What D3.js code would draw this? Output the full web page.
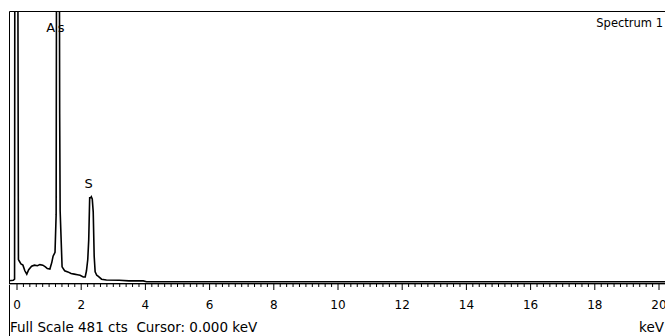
<!DOCTYPE html>
<html>
<head>
  <style>
    body { margin: 0; background: white; }
    text { font-family: "DejaVu Sans", Arial, sans-serif; font-size: 12px; fill: black; }
  </style>
</head>
<body>
  <script src="https://d3js.org/d3.v7.min.js"></script>
  <script>
    var width = 665, height = 336;

    // spectrum trace (keV, counts)
    var energy = [-0.25, -0.1, -0.06, -0.04, 0.01, 0.06, 0.09, 0.14, 0.2, 0.26, 0.32, 0.38, 0.47,
                  0.56, 0.65, 0.73, 0.82, 0.9, 0.96, 1.04, 1.1, 1.14, 1.2, 1.235, 1.255, 1.325,
                  1.345, 1.36, 1.42, 1.5, 1.6, 1.7, 1.8, 1.9, 1.98, 2.08, 2.14, 2.18, 2.22, 2.25,
                  2.28, 2.31, 2.33, 2.36, 2.39, 2.42, 2.45, 2.5, 2.55, 2.65, 2.8, 3.2, 3.5, 3.95,
                  4.05, 20.3];
    var counts = [2, 3, 5, 1500, 1500, 40, 37, 32, 30, 20, 14, 22, 28,
                  30, 29, 31, 30, 27, 24, 23, 35, 46, 53, 120, 900, 900,
                  300, 126, 27, 20, 18, 15, 14, 13, 12, 9, 9, 20, 40, 75,
                  150, 150, 152, 148, 125, 46, 18, 12, 10, 5, 3.5, 3, 2, 2,
                  0.5, 0.5];

    var peakNames = ["As", "S"];
    var peakEnergy = [1.25, 2.25];
    var peakCounts = [446, 168];

    var majorTicks = d3.range(0, 21, 2);
    var minorTicks = d3.range(0, 101).map(d => d * 0.2).filter(d => Math.round(d * 10) % 20 !== 0);
    var fullScale = 481;

    var x = d3.scaleLinear().domain([0, 20]).range([16.5, 658.5]);
    var y = d3.scaleLinear().domain([0, fullScale]).range([282, 12]);

    var svg = d3.select("body").append("svg")
        .attr("width", width).attr("height", height);

    svg.append("clipPath").attr("id", "plot")
      .append("rect").attr("x", 9).attr("y", 12).attr("width", width - 9).attr("height", 272);

    // frame
    svg.append("path")
        .attr("d", "M9.5,336V11.5H665")
        .attr("fill", "none").attr("stroke", "black");

    // spectrum
    var line = d3.line().x((d, i) => x(energy[i])).y(d => y(d));
    svg.append("path")
        .datum(counts)
        .attr("clip-path", "url(#plot)")
        .attr("d", line)
        .attr("fill", "none")
        .attr("stroke", "black")
        .attr("stroke-width", 1.6);

    // axis
    svg.append("line").attr("x1", 9).attr("x2", width).attr("y1", 283.5).attr("y2", 283.5)
        .attr("stroke", "black");
    svg.append("line").attr("x1", 9).attr("x2", width).attr("y1", 284.5).attr("y2", 284.5)
        .attr("stroke", "#a0a0a0");

    var xAxis = svg.append("g").attr("transform", "translate(0,284)")
        .call(d3.axisBottom(x).tickValues(majorTicks).tickSize(6).tickPadding(10));
    xAxis.select(".domain").remove();
    xAxis.selectAll("text").attr("font-size", null).attr("font-family", null);
    xAxis.selectAll("line").attr("stroke", "black");

    var minor = svg.append("g").attr("transform", "translate(0,284)")
        .call(d3.axisBottom(x).tickValues(minorTicks).tickSize(3).tickFormat(""));
    minor.select(".domain").remove();

    // labels
    svg.selectAll(".peak").data(peakNames).enter().append("text")
        .attr("class", "peak")
        .attr("x", (d, i) => x(peakEnergy[i]))
        .attr("y", (d, i) => y(peakCounts[i]))
        .attr("text-anchor", "middle")
        .style("font-size", "13px")
        .style("letter-spacing", (d, i) => i === 0 ? "2.5px" : null)
        .text(d => d);

    svg.append("text").attr("x", 663).attr("y", 27).attr("text-anchor", "end")
        .style("font-size", "11.5px").text("Spectrum 1");
    svg.append("text").attr("x", 10).attr("y", 332).style("font-size", "13.5px")
        .style("white-space", "pre")
        .text("Full Scale " + fullScale + " cts  Cursor: 0.000 keV");
    svg.append("text").attr("x", 664).attr("y", 332).attr("text-anchor", "end")
        .style("font-size", "13.5px").text("keV");
  </script>
</body>
</html>
